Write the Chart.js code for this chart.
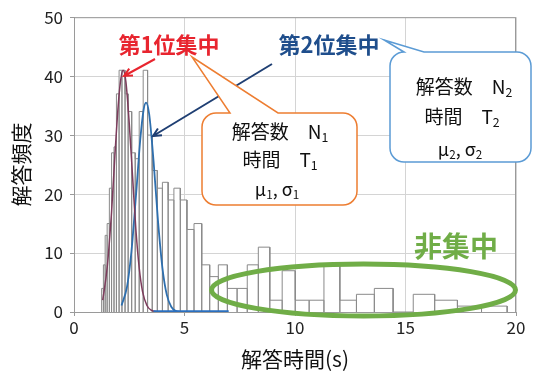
<!DOCTYPE html>
<html>
<head>
<meta charset="utf-8">
<script src="https://cdn.jsdelivr.net/npm/chart.js@4.4.1/dist/chart.umd.min.js"></script>
<style>
  body { margin: 0; background: #fff; }
</style>
</head>
<body>
<canvas id="hist" width="537" height="372"></canvas>
<script>
// histogram bins (s) and counts
const binEdges = [1.25, 1.33, 1.41, 1.50, 1.60, 1.70, 1.81, 1.92, 2.04, 2.17, 2.31, 2.45, 2.61, 2.77, 2.95,
  3.13, 3.33, 3.54, 3.77, 4.00, 4.26, 4.52, 4.81, 5.11, 5.43, 5.78, 6.14, 6.53, 6.94, 7.38, 7.84,
  8.34, 8.86, 9.42, 10.01, 10.64, 11.31, 12.03, 12.78, 13.59, 14.44, 15.35, 16.32, 17.35, 18.44, 19.60]
const binCounts = [4, 8, 13, 15, 21, 27, 28, 37, 41, 41, 37, 34, 27, 26, 34,
  41, 30, 24, 21, 22, 19, 21, 19, 14, 15, 8, 6, 8, 4, 4,
  8, 11, 2, 7, 2, 2, 8, 2, 3, 4, 0, 3, 2, 1, 1]

// fitted curves
const fit1X = [1.3, 1.5, 1.7, 1.85, 2.0, 2.1, 2.22, 2.35, 2.5, 2.65, 2.8, 2.95, 3.1, 3.3, 3.5, 3.8]
const fit1Y = [2.0, 7.5, 17, 26.5, 35, 39, 41, 39, 32, 23, 14, 7.5, 3.5, 1.1, 0.3, 0]
const fit2X = [2.15, 2.4, 2.6, 2.8, 3.0, 3.15, 3.26, 3.4, 3.6, 3.8, 4.0, 4.2, 4.4, 4.6, 4.8]
const fit2Y = [1.1, 4.3, 10.3, 19.5, 29.3, 34.3, 35.5, 33.6, 25.6, 15.5, 7.5, 2.9, 0.9, 0.2, 0]
const tailX = [3.6, 7.0]
const tailY = [0, 0]

const xTicks = [0, 5, 10, 15, 20]
const yTicks = [0, 10, 20, 30, 40, 50]

const JP = '"Noto Sans CJK JP", "Noto Sans", sans-serif'

const outline = []
binCounts.forEach((c, i) => {
  outline.push({x: binEdges[i], y: 0}, {x: binEdges[i], y: c},
    {x: binEdges[i + 1], y: c}, {x: binEdges[i + 1], y: 0})
})
const pts = (xs, ys) => xs.map((v, i) => ({x: v, y: ys[i]}))

function arrow(ctx, x0, y0, x1, y1, color) {
  const a = Math.atan2(y1 - y0, x1 - x0), h = 9
  ctx.strokeStyle = color
  ctx.lineWidth = 2
  ctx.beginPath()
  ctx.moveTo(x0, y0); ctx.lineTo(x1, y1)
  ctx.moveTo(x1 - h * Math.cos(a - 0.45), y1 - h * Math.sin(a - 0.45))
  ctx.lineTo(x1, y1)
  ctx.lineTo(x1 - h * Math.cos(a + 0.45), y1 - h * Math.sin(a + 0.45))
  ctx.stroke()
}

function callout(ctx, x0, y0, x1, y1, r, bA, bB, tx, ty, color) {
  ctx.beginPath()
  ctx.moveTo(x0 + r, y0)
  ctx.lineTo(bA, y0); ctx.lineTo(tx, ty); ctx.lineTo(bB, y0)
  ctx.lineTo(x1 - r, y0); ctx.arcTo(x1, y0, x1, y0 + r, r)
  ctx.lineTo(x1, y1 - r); ctx.arcTo(x1, y1, x1 - r, y1, r)
  ctx.lineTo(x0 + r, y1); ctx.arcTo(x0, y1, x0, y1 - r, r)
  ctx.lineTo(x0, y0 + r); ctx.arcTo(x0, y0, x0 + r, y0, r)
  ctx.closePath()
  ctx.fillStyle = '#fff'
  ctx.fill()
  ctx.strokeStyle = color
  ctx.lineWidth = 1.5
  ctx.stroke()
}

// parts: [text, isSubscript]
function subText(ctx, parts, cx, cy, size) {
  const f = s => s + 'px ' + JP
  let w = 0
  parts.forEach(([t, sub]) => { ctx.font = f(sub ? size * 0.65 : size); w += ctx.measureText(t).width })
  let x = cx - w / 2
  ctx.textAlign = 'left'
  ctx.textBaseline = 'middle'
  ctx.fillStyle = '#111'
  parts.forEach(([t, sub]) => {
    ctx.font = f(sub ? size * 0.65 : size)
    ctx.fillText(t, x, sub ? cy + size * 0.3 : cy)
    x += ctx.measureText(t).width
  })
}

const notes = {
  id: 'notes',
  afterDatasetsDraw(chart) {
    const {ctx, chartArea: a} = chart
    ctx.save()
    ctx.strokeStyle = '#9a9a9a'
    ctx.lineWidth = 1
    ctx.strokeRect(a.left + 0.5, a.top + 0.5, a.right - a.left - 1, a.bottom - a.top)

    ctx.strokeStyle = '#70ad47'
    ctx.lineWidth = 5
    ctx.beginPath()
    ctx.ellipse(363.5, 290, 152, 26, 0, 0, Math.PI * 2)
    ctx.stroke()

    ctx.textAlign = 'center'
    ctx.textBaseline = 'middle'
    ctx.font = 'bold 22px ' + JP
    ctx.fillStyle = '#e8252f'
    ctx.fillText('第1位集中', 169, 45)
    ctx.fillStyle = '#1f4e8c'
    ctx.fillText('第2位集中', 329, 45)
    ctx.font = 'bold 28px ' + JP
    ctx.fillStyle = '#70ad47'
    ctx.fillText('非集中', 456, 246)

    arrow(ctx, 155, 59, 124, 76, '#e8252f')
    arrow(ctx, 272, 64, 153, 136, '#1f3f73')

    callout(ctx, 202, 113, 357, 205, 14, 230, 278, 192, 57, '#ed7d31')
    subText(ctx, [['解答数　N', 0], ['1', 1]], 280, 132, 19)
    subText(ctx, [['時間　T', 0], ['1', 1]], 280, 160, 19)
    subText(ctx, [['μ', 0], ['1', 1], [', σ', 0], ['1', 1]], 277, 189, 18)

    callout(ctx, 390, 52, 531, 162, 14, 404, 424, 384, 40, '#5b9bd5')
    subText(ctx, [['解答数　N', 0], ['2', 1]], 464, 87, 19)
    subText(ctx, [['時間　T', 0], ['2', 1]], 462, 117, 19)
    subText(ctx, [['μ', 0], ['2', 1], [', σ', 0], ['2', 1]], 460, 149, 18)
    ctx.restore()
  }
}

new Chart(document.getElementById('hist'), {
  type: 'scatter',
  data: {
    datasets: [
      {
        data: outline,
        showLine: true,
        borderColor: '#8a8a8a',
        borderWidth: 1,
        backgroundColor: '#fff',
        fill: 'origin',
        pointRadius: 0,
        order: 3
      },
      {
        data: pts(fit1X, fit1Y),
        showLine: true,
        borderColor: '#7d3c5c',
        borderWidth: 1.5,
        cubicInterpolationMode: 'monotone',
        pointRadius: 0,
        order: 1
      },
      {
        data: pts(fit2X, fit2Y),
        showLine: true,
        borderColor: '#2e6fae',
        borderWidth: 1.8,
        cubicInterpolationMode: 'monotone',
        pointRadius: 0,
        order: 1
      },
      {
        data: pts(tailX, tailY),
        showLine: true,
        borderColor: '#2a6fbf',
        borderWidth: 3.5,
        pointRadius: 0,
        order: 0
      }
    ]
  },
  options: {
    responsive: false,
    animation: false,
    devicePixelRatio: 1,
    layout: { padding: { top: 17, right: 21, left: 0, bottom: 0 } },
    plugins: { legend: { display: false }, tooltip: { enabled: false } },
    scales: {
      x: {
        type: 'linear',
        min: 0,
        max: 20,
        afterBuildTicks: s => { s.ticks = xTicks.map(v => ({value: v})) },
        afterFit: s => { s.height = 60 },
        ticks: { color: '#222', font: { family: JP, size: 17 }, padding: 1 },
        grid: { color: '#d4d4d4', borderDash: [2, 2], tickColor: '#9a9a9a', tickLength: 4, tickBorderDash: [] },
        border: { color: '#9a9a9a' },
        title: { display: true, text: '解答時間(s)', color: '#111', font: { family: JP, size: 21 }, padding: { top: 0, bottom: 0 } }
      },
      y: {
        min: 0,
        max: 50,
        afterBuildTicks: s => { s.ticks = yTicks.map(v => ({value: v})) },
        afterFit: s => { s.width = 74 },
        ticks: { color: '#222', font: { family: JP, size: 17 }, padding: 7 },
        grid: { color: '#d4d4d4', borderDash: [2, 2], tickColor: '#9a9a9a', tickLength: 4, tickBorderDash: [] },
        border: { color: '#9a9a9a' },
        title: { display: true, text: '解答頻度', color: '#111', font: { family: JP, size: 21 }, padding: { top: 8, bottom: 0 } }
      }
    }
  },
  plugins: [notes]
})
</script>
</body>
</html>
